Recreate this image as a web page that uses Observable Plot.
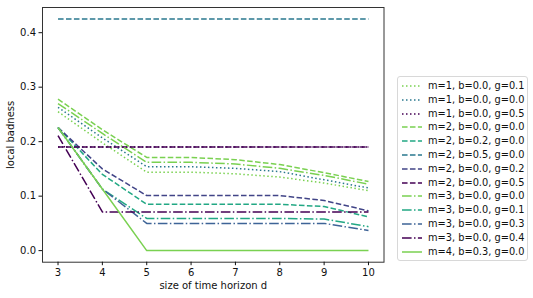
<!DOCTYPE html>
<html><head><meta charset="utf-8">
<script src="https://cdn.jsdelivr.net/npm/d3@7"></script>
<script src="https://cdn.jsdelivr.net/npm/@observablehq/plot@0.6"></script>
<style>
body{margin:0;background:#fff;font-family:"DejaVu Sans",sans-serif;}
#wrap{position:relative;width:533px;height:298px;}
#legend{position:absolute;left:397px;top:76px;width:131px;height:185px;border:1px solid #d8d8d8;border-radius:3px;background:rgba(255,255,255,0.8);box-sizing:border-box;font-size:9.8px;color:#111;}
.row{position:absolute;left:0;height:14px;}
.row svg{position:absolute;left:3px;top:0;}
.row span{position:absolute;left:30px;top:0;line-height:14px;white-space:nowrap;}
</style></head><body><div id="wrap"><div id="legend"></div></div>
<script>
const horizons = [3, 4, 5, 6, 7, 8, 9, 10];
const xTicks = [3, 4, 5, 6, 7, 8, 9, 10];
const yTicks = [0.0, 0.1, 0.2, 0.3, 0.4];

const seriesLabels = [
  "m=1, b=0.0, g=0.1", "m=1, b=0.0, g=0.0", "m=1, b=0.0, g=0.5",
  "m=2, b=0.0, g=0.0", "m=2, b=0.2, g=0.0", "m=2, b=0.5, g=0.0",
  "m=2, b=0.0, g=0.2", "m=2, b=0.0, g=0.5",
  "m=3, b=0.0, g=0.0", "m=3, b=0.0, g=0.1", "m=3, b=0.0, g=0.3",
  "m=3, b=0.0, g=0.4", "m=4, b=0.3, g=0.0"
];
const m1_b00_g01 = [0.255, 0.198, 0.144, 0.144, 0.141, 0.135, 0.124, 0.110];
const m1_b00_g00 = [0.263, 0.207, 0.154, 0.154, 0.151, 0.145, 0.130, 0.115];
const m1_b00_g05 = [0.190, 0.190, 0.190, 0.190, 0.190, 0.190, 0.190, 0.190];
const m2_b00_g00 = [0.278, 0.222, 0.171, 0.171, 0.167, 0.158, 0.143, 0.127];
const m2_b02_g00 = [0.226, 0.140, 0.085, 0.085, 0.085, 0.085, 0.081, 0.062];
const m2_b05_g00 = [0.425, 0.425, 0.425, 0.425, 0.425, 0.425, 0.425, 0.425];
const m2_b00_g02 = [0.226, 0.150, 0.101, 0.101, 0.101, 0.101, 0.092, 0.073];
const m2_b00_g05 = [0.190, 0.190, 0.190, 0.190, 0.190, 0.190, 0.190, 0.190];
const m3_b00_g00 = [0.270, 0.215, 0.162, 0.162, 0.159, 0.151, 0.138, 0.122];
const m3_b00_g01 = [0.226, 0.113, 0.059, 0.059, 0.059, 0.059, 0.058, 0.044];
const m3_b00_g03 = [0.226, 0.113, 0.050, 0.050, 0.050, 0.050, 0.050, 0.037];
const m3_b00_g04 = [0.211, 0.071, 0.071, 0.071, 0.071, 0.071, 0.071, 0.071];
const m4_b03_g00 = [0.226, 0.113, 0.000, 0.000, 0.000, 0.000, 0.000, 0.000];

const seriesValues = [m1_b00_g01, m1_b00_g00, m1_b00_g05, m2_b00_g00, m2_b02_g00, m2_b05_g00,
  m2_b00_g02, m2_b00_g05, m3_b00_g00, m3_b00_g01, m3_b00_g03, m3_b00_g04, m4_b03_g00];

const GREEN = "#7ad151", TEAL = "#22a884", TEALBLUE = "#2a788e", NAVY = "#414487", PURPLE = "#440154", BLUE = "#3e6497";
const seriesColors = [GREEN, TEALBLUE, PURPLE, GREEN, TEAL, TEALBLUE, NAVY, PURPLE, GREEN, TEAL, BLUE, PURPLE, GREEN];
const DOT = "1.5,2.5", DASH = "5.55,2.4", DASHDOT = "9.6,2.4,1.5,2.4", SOLID = null;
const seriesDash = [DOT, DOT, DOT, DASH, DASH, DASH, DASH, DASH, DASHDOT, DASHDOT, DASHDOT, DASHDOT, SOLID];

const marks = [];
seriesValues.forEach((vals, i) => {
  const rows = horizons.map((d, j) => ({d, v: vals[j]}));
  marks.push(Plot.lineY(rows, {x: "d", y: "v", stroke: seriesColors[i], strokeWidth: 1.5,
    strokeDasharray: seriesDash[i] || undefined, strokeLinecap: "butt"}));
});
marks.push(Plot.frame({stroke: "#333", strokeWidth: 1}));
marks.push(Plot.axisX({ticks: xTicks, tickFormat: d3.format("d"), tickSize: 3.5, tickPadding: 3, fontSize: 10,
  label: "size of time horizon d", labelAnchor: "center", labelArrow: "none", labelOffset: 27}));
marks.push(Plot.axisY({ticks: yTicks, tickFormat: d3.format(".1f"), tickSize: 3.5, tickPadding: 3, fontSize: 10,
  label: "local badness", labelAnchor: "center", labelArrow: "none", labelOffset: 36}));

const chart = Plot.plot({
  width: 533, height: 298,
  marginLeft: 42, marginRight: 149.5, marginTop: 7, marginBottom: 36.3,
  style: {fontFamily: "DejaVu Sans, sans-serif", fontSize: "10px", color: "#111", background: "#fff"},
  x: {domain: [2.65, 10.35]},
  y: {domain: [-0.02125, 0.44625]},
  marks
});
document.getElementById("wrap").prepend(chart);

const legend = document.getElementById("legend");
seriesLabels.forEach((lab, i) => {
  const row = document.createElement("div");
  row.className = "row";
  row.style.top = (2 + 13.8 * i) + "px";
  row.style.width = "100%";
  const dash = seriesDash[i] ? ` stroke-dasharray="${seriesDash[i]}"` : "";
  row.innerHTML = `<svg width="22" height="14"><line x1="1" x2="21" y1="7" y2="7" stroke="${seriesColors[i]}" stroke-width="1.5"${dash}/></svg><span>${lab}</span>`;
  legend.appendChild(row);
});
</script></body></html>
